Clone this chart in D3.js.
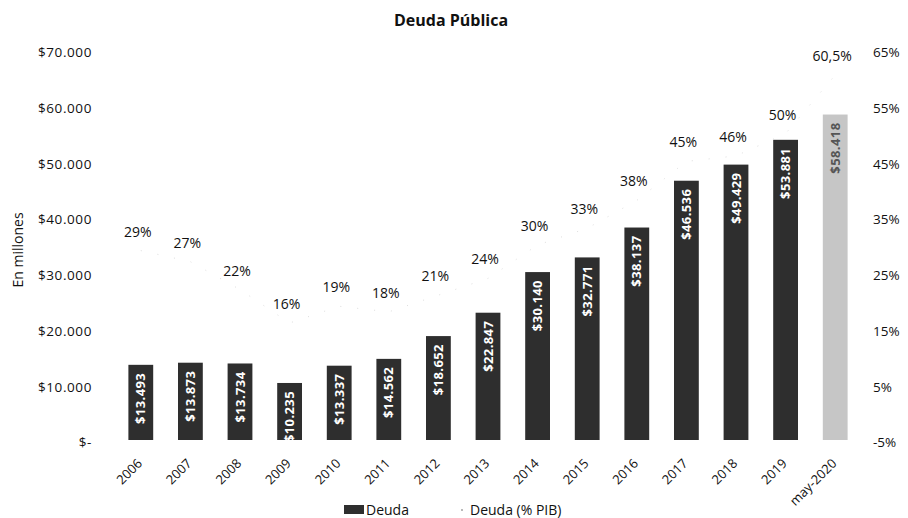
<!DOCTYPE html>
<html>
<head>
<meta charset="utf-8">
<script src="https://cdn.jsdelivr.net/npm/d3@7"></script>
<style>
  body { margin: 0; background: #fff; }
  svg { display: block; font-family: "Open Sans", sans-serif; }
</style>
</head>
<body>
<svg id="chart" width="908" height="518"></svg>
<script>
const categories = ["2006","2007","2008","2009","2010","2011","2012","2013","2014","2015","2016","2017","2018","2019","may-2020"];
const deuda = [13493, 13873, 13734, 10235, 13337, 14562, 18652, 22847, 30140, 32771, 38137, 46536, 49429, 53881, 58418];
const deudaPIB = [29, 27, 22, 16, 19, 18, 21, 24, 30, 33, 38, 45, 46, 50, 60.5];
const pibLabels = ["29%","27%","22%","16%","19%","18%","21%","24%","30%","33%","38%","45%","46%","50%","60,5%"];
const leftTicks = [0, 10000, 20000, 30000, 40000, 50000, 60000, 70000];
const rightTicks = [-5, 5, 15, 25, 35, 45, 55, 65];

const svg = d3.select("#chart");
const plotTop = 50, plotBottom = 440, plotLeft = 116, plotRight = 860;

const x = d3.scaleBand().domain(categories).range([plotLeft, plotRight]).paddingInner(0.5).paddingOuter(0.25);
const yL = d3.scaleLinear().domain([0, 70000]).range([plotBottom, plotTop]);
const yR = d3.scaleLinear().domain([-5, 65]).range([plotBottom, plotTop]);

const thousands = v => d3.format(",")(v).replace(/,/g, ".");

// title
svg.append("text").attr("x", 451).attr("y", 26).attr("text-anchor", "middle")
  .attr("font-size", 16).attr("font-weight", "bold").attr("fill", "#111").text("Deuda Pública");

// y axis label
svg.append("text").attr("transform", "translate(23,250) rotate(-90)").attr("text-anchor", "middle")
  .attr("font-size", 14).attr("fill", "#111").text("En millones");

// left axis
const gL = svg.append("g").attr("transform", "translate(100,0)")
  .call(d3.axisLeft(yL).tickValues(leftTicks).tickSize(0).tickPadding(8)
    .tickFormat(v => v === 0 ? "$-" : "$" + thousands(v)));
gL.select(".domain").remove();
gL.selectAll("text").attr("font-size", 13.5).attr("letter-spacing", "0.6px").attr("fill", "#111")
  .attr("font-family", "'Open Sans', sans-serif").attr("dy", "0.5em");

// right axis
const gR = svg.append("g").attr("transform", "translate(865,0)")
  .call(d3.axisRight(yR).tickValues(rightTicks).tickSize(0).tickPadding(8).tickFormat(v => v + "%"));
gR.select(".domain").remove();
gR.selectAll("text").attr("font-size", 13.5).attr("fill", "#111")
  .attr("font-family", "'Open Sans', sans-serif").attr("dy", "0.5em");

// bars
svg.append("defs").append("clipPath").attr("id", "plotclip")
  .append("rect").attr("x", 0).attr("y", 0).attr("width", 908).attr("height", plotBottom);

const bars = svg.append("g");
bars.selectAll("rect").data(deuda).join("rect")
  .attr("x", (d, i) => x(categories[i]))
  .attr("y", d => yL(d))
  .attr("width", x.bandwidth())
  .attr("height", d => plotBottom - yL(d))
  .attr("fill", (d, i) => i === categories.length - 1 ? "#c6c6c6" : "#2e2e2e");

bars.append("g").attr("clip-path", "url(#plotclip)")
  .selectAll("text").data(deuda).join("text")
  .attr("transform", (d, i) => `translate(${x(categories[i]) + x.bandwidth() / 2},${yL(d) + 8}) rotate(-90)`)
  .attr("text-anchor", "end").attr("dy", "0.36em")
  .attr("font-size", 13).attr("font-weight", "bold").attr("letter-spacing", "0.4px")
  .attr("fill", (d, i) => i === categories.length - 1 ? "#555" : "#fff")
  .text(d => "$" + thousands(d));

// faint line series
const line = d3.line().x((d, i) => x(categories[i]) + x.bandwidth() / 2).y(d => yR(d));
svg.append("path").datum(deudaPIB).attr("d", line).attr("fill", "none")
  .attr("stroke", "#d4d4d4").attr("stroke-width", 1).attr("stroke-dasharray", "1,16").attr("opacity", 0.8);

svg.append("g").selectAll("text").data(deudaPIB).join("text")
  .attr("x", (d, i) => x(categories[i]) + x.bandwidth() / 2 - 3)
  .attr("y", d => yR(d) - 14)
  .attr("text-anchor", "middle").attr("font-size", 14).attr("fill", "#111")
  .text((d, i) => pibLabels[i]);

// x axis
const gX = svg.append("g").attr("transform", `translate(0,${plotBottom})`)
  .call(d3.axisBottom(x).tickSize(0).tickPadding(0));
gX.select(".domain").remove();
gX.selectAll("text")
  .attr("font-size", 13).attr("fill", "#111").attr("font-family", "'Open Sans', sans-serif")
  .attr("text-anchor", "end").attr("y", 0).attr("dy", "0.35em")
  .attr("transform", "translate(-1,21) rotate(-45)");

// legend
const lg = svg.append("g");
lg.append("rect").attr("x", 344).attr("y", 505).attr("width", 20).attr("height", 9).attr("fill", "#2e2e2e");
lg.append("text").attr("x", 366).attr("y", 515).attr("font-size", 14).attr("fill", "#111").text("Deuda");
lg.append("circle").attr("cx", 462).attr("cy", 510).attr("r", 0.9).attr("fill", "#999");
lg.append("text").attr("x", 470).attr("y", 515).attr("font-size", 14).attr("fill", "#111").text("Deuda (% PIB)");
</script>
</body>
</html>
